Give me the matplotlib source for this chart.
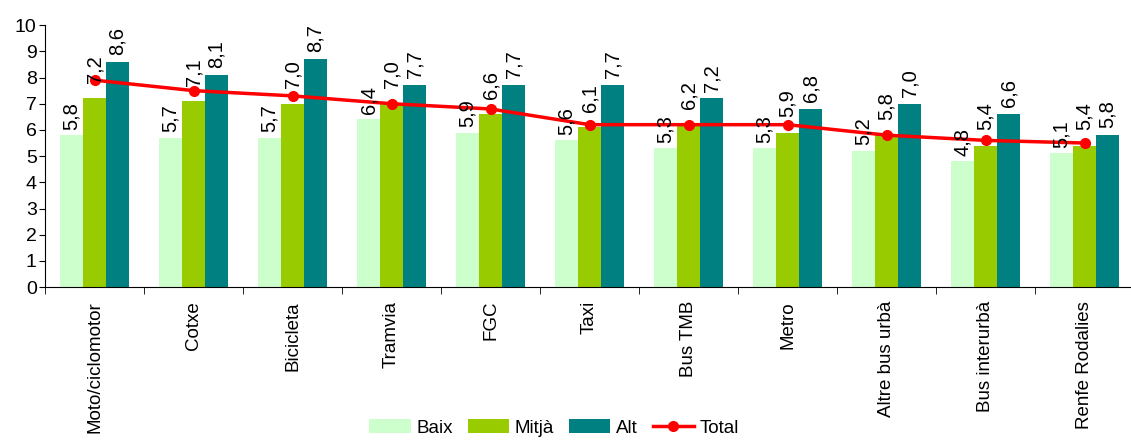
import numpy as np
import matplotlib
matplotlib.use('Agg')
import matplotlib.pyplot as plt

plt.rcParams['font.family'] = ['Liberation Sans', 'DejaVu Sans']

categories = ['Moto/ciclomotor', 'Cotxe', 'Bicicleta', 'Tramvia', 'FGC', 'Taxi',
              'Bus TMB', 'Metro', 'Altre bus urbà', 'Bus interurbà', 'Renfe Rodalies']
baix = [5.8, 5.7, 5.7, 6.4, 5.9, 5.6, 5.3, 5.3, 5.2, 4.8, 5.1]
mitja = [7.2, 7.1, 7.0, 7.0, 6.6, 6.1, 6.2, 5.9, 5.8, 5.4, 5.4]
alt = [8.6, 8.1, 8.7, 7.7, 7.7, 7.7, 7.2, 6.8, 7.0, 6.6, 5.8]
total = [7.9, 7.5, 7.3, 7.0, 6.8, 6.2, 6.2, 6.2, 5.8, 5.6, 5.5]

fig = plt.figure(figsize=(11.31, 4.41), dpi=100)
ax = fig.add_axes([0.0398, 0.349, 0.963, 0.594])

x = np.arange(len(categories))
w = 0.232
series = [('Baix', baix, '#CCFFCC', -w, 4),
          ('Mitjà', mitja, '#99CC00', 0, 11),
          ('Alt', alt, '#008080', w, 5)]
handles = []
for name, vals, col, off, lab_off in series:
    b = ax.bar(x + off, vals, width=w, color=col, label=name, zorder=2)
    handles.append(b)
    for xi, v in zip(x + off, vals):
        ax.annotate(f'{v:.1f}'.replace('.', ','), (xi, v), xytext=(0, lab_off),
                    textcoords='offset points', rotation=90, ha='center', va='bottom',
                    fontsize=14.5, zorder=4)

ln, = ax.plot(x, total, color='#FF0000', lw=2.5, marker='o', markersize=7, label='Total', zorder=3)
handles.append(ln)

ax.set_xlim(-0.5, len(categories) - 0.5)
ax.set_ylim(0, 10)
ax.set_yticks(np.arange(0, 11, 1))
ax.tick_params(axis='y', labelsize=14, length=4, direction='out', pad=2)
ax.set_xticks(x)
ax.set_xticklabels(categories, rotation=90, fontsize=13.5)
ax.tick_params(axis='x', which='major', length=0, pad=10)
ax.set_xticks(np.arange(-0.5, len(categories), 1), minor=True)
ax.tick_params(axis='x', which='minor', length=5, direction='out')
for s in ['top', 'right']:
    ax.spines[s].set_visible(False)

fig.legend(handles=handles, loc='center', bbox_to_anchor=(0.49, 0.03), ncol=4, frameon=False,
           fontsize=13.5, handlelength=2.2, handleheight=0.8, columnspacing=0.8,
           handletextpad=0.3, borderpad=0)

fig.savefig('out.png', dpi=100)
